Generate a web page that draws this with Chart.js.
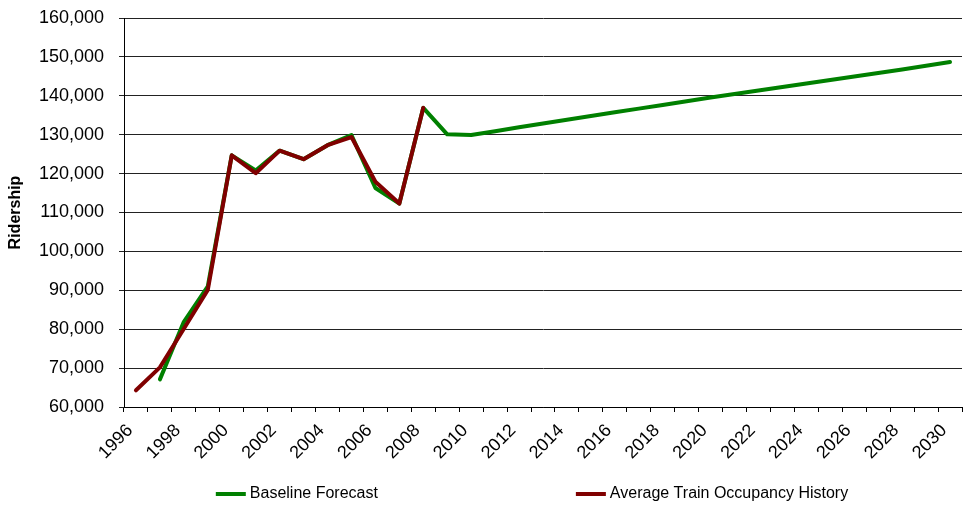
<!DOCTYPE html>
<html>
<head>
<meta charset="utf-8">
<script src="https://cdn.jsdelivr.net/npm/chart.js@4"></script>
<style>
  html, body { margin: 0; padding: 0; background: #ffffff; }
  #wrap { width: 963px; height: 506px; }
</style>
</head>
<body>
<div id="wrap"><canvas id="c" width="963" height="506"></canvas></div>
<script>
// Years on the category axis
const years = [
  1996, 1997, 1998, 1999, 2000, 2001, 2002, 2003, 2004, 2005,
  2006, 2007, 2008, 2009, 2010, 2011, 2012, 2013, 2014, 2015,
  2016, 2017, 2018, 2019, 2020, 2021, 2022, 2023, 2024, 2025,
  2026, 2027, 2028, 2029, 2030
];

// Baseline ridership forecast
const baselineForecast = [
  null, 67100, 81900, 91000, 124700, 120800, 125900, 123700, 127300, 129900,
  116300, 112300, 136900, 130100, 129900, 130900, 131900, 132900, 133850, 134800,
  135750, 136700, 137650, 138600, 139550, 140450, 141350, 142250, 143150, 144050,
  144950, 145850, 146750, 147700, 148700
];

// Observed average train occupancy
const occupancyHistory = [
  64300, 70200, 80100, 90100, 124700, 120100, 125900, 123700, 127300, 129400,
  117900, 112300, 136900, null, null, null, null, null, null, null,
  null, null, null, null, null, null, null, null, null, null,
  null, null, null, null, null
];

const seriesNames = ['Baseline Forecast', 'Average Train Occupancy History'];
const seriesColors = ['#008000', '#800000'];
const yTickValues = [60000, 70000, 80000, 90000, 100000, 110000, 120000, 130000, 140000, 150000, 160000];
const yTitle = 'Ridership';

const FONT = '"Liberation Sans", Arial, sans-serif';

// Legend row drawn beneath the axis labels
const bottomLegend = {
  id: 'bottomLegend',
  afterDraw(chart) {
    const ctx = chart.ctx;
    const area = chart.chartArea;
    ctx.save();
    ctx.font = '16px ' + FONT;
    ctx.textBaseline = 'middle';
    ctx.textAlign = 'left';
    const swatch = 30, textGap = 4, itemGap = 198, y = 494;
    const widths = seriesNames.map(n => swatch + textGap + ctx.measureText(n).width);
    const total = widths.reduce((a, b) => a + b, 0) + itemGap * (widths.length - 1);
    let x = (area.left + area.right) / 2 - total / 2 - 11;
    seriesNames.forEach((name, i) => {
      ctx.fillStyle = seriesColors[i];
      ctx.fillRect(x, y - 2, swatch, 4);
      ctx.fillStyle = '#000000';
      ctx.fillText(name, x + swatch + textGap, y);
      x += widths[i] + itemGap;
    });
    ctx.restore();
  }
};

new Chart(document.getElementById('c'), {
  type: 'line',
  data: {
    labels: years.map(String),
    datasets: [
      {
        label: seriesNames[0],
        data: baselineForecast,
        borderColor: seriesColors[0],
        backgroundColor: seriesColors[0],
        borderWidth: 4,
        pointRadius: 0,
        tension: 0,
        borderJoinStyle: 'round',
        borderCapStyle: 'round',
        spanGaps: false,
        order: 1
      },
      {
        label: seriesNames[1],
        data: occupancyHistory,
        borderColor: seriesColors[1],
        backgroundColor: seriesColors[1],
        borderWidth: 4,
        pointRadius: 0,
        tension: 0,
        borderJoinStyle: 'round',
        borderCapStyle: 'round',
        spanGaps: false,
        order: 0
      }
    ]
  },
  options: {
    responsive: false,
    animation: false,
    devicePixelRatio: 1,
    layout: { padding: { top: 18, right: 1, bottom: 0, left: 0 } },
    plugins: {
      legend: { display: false },
      tooltip: { enabled: false }
    },
    scales: {
      x: {
        type: 'category',
        offset: true,
        grid: {
          offset: true,
          drawOnChartArea: false,
          drawTicks: true,
          tickLength: 5,
          color: '#000000',
          lineWidth: 1
        },
        border: { display: true, color: '#000000', width: 1 },
        ticks: {
          autoSkip: false,
          minRotation: 45,
          maxRotation: 45,
          padding: 8,
          labelOffset: -6,
          color: '#000000',
          font: { family: FONT, size: 18 },
          callback: function (value, index) {
            const yr = years[index];
            return yr % 2 === 0 ? String(yr) : '';
          }
        },
        afterFit(scale) {
          scale.height = 99;
          scale.paddingLeft = 0;
          scale.paddingRight = 0;
        }
      },
      y: {
        min: yTickValues[0],
        max: yTickValues[yTickValues.length - 1],
        afterBuildTicks(scale) {
          scale.ticks = yTickValues.map(v => ({ value: v }));
        },
        grid: {
          drawOnChartArea: true,
          drawTicks: true,
          tickLength: 5,
          color: '#222222',
          lineWidth: 1
        },
        border: { display: true, color: '#000000', width: 1 },
        ticks: {
          padding: 15,
          color: '#000000',
          font: { family: FONT, size: 18 },
          callback: v => Number(v).toLocaleString('en-US')
        },
        title: {
          display: true,
          text: yTitle,
          color: '#000000',
          font: { family: FONT, size: 16, weight: 'bold' },
          padding: { top: 6, bottom: 0 }
        },
        afterFit(scale) {
          scale.width = 124;
          scale.paddingTop = 0;
          scale.paddingBottom = 0;
        }
      }
    }
  },
  plugins: [bottomLegend]
});
</script>
</body>
</html>
